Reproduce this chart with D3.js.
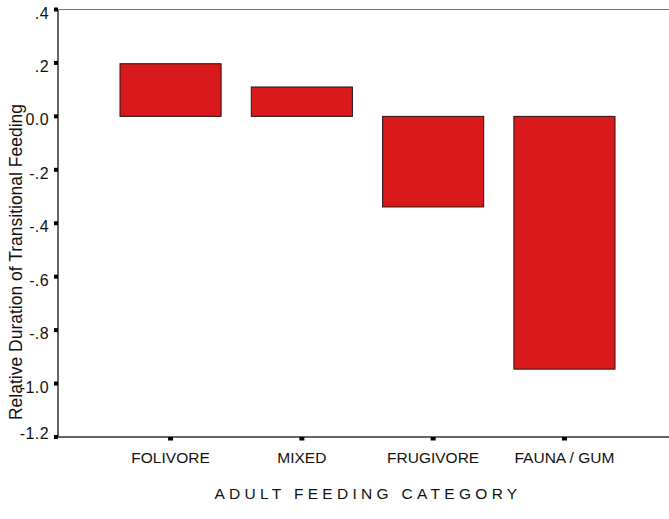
<!DOCTYPE html>
<html><head><meta charset="utf-8">
<script src="https://cdn.jsdelivr.net/npm/d3@7/dist/d3.min.js"></script>
<style>body{margin:0;background:#fff}svg{display:block;font-family:"Liberation Sans",Arial,sans-serif}</style>
</head><body><svg id="c" width="669" height="519"></svg>
<script>
const categories = ["FOLIVORE", "MIXED", "FRUGIVORE", "FAUNA / GUM"];
const values = [0.197, 0.110, -0.339, -0.946];
const tickValues = [0.4, 0.2, 0.0, -0.2, -0.4, -0.6, -0.8, -1.0, -1.2];
const tickLabels = [".4", ".2", "0.0", "-.2", "-.4", "-.6", "-.8", "-1.0", "-1.2"];
const yTitle = "Relative Duration of Transitional Feeding";
const xTitle = "ADULT FEEDING CATEGORY";

const svg = d3.select("#c");
const pLeft = 58, pRight = 669, pTop = 9.5, pBottom = 437;
const y = d3.scaleLinear().domain([-1.2, 0.4]).range([pBottom, pTop]);
const xBar = d3.scaleBand().domain(categories).range([104.9, 630.1]).paddingInner(0.23).paddingOuter(0.115);
const xMid = d => xBar(d) + xBar.bandwidth() / 2;

// top frame line
svg.append("line").attr("x1", pLeft).attr("x2", pRight).attr("y1", pTop).attr("y2", pTop)
  .attr("stroke", "#777").attr("stroke-width", 1.2);

// bars
svg.selectAll("rect.bar").data(values).join("rect").attr("class", "bar")
  .attr("x", (d, i) => xBar(categories[i]))
  .attr("width", xBar.bandwidth())
  .attr("y", d => y(Math.max(0, d)))
  .attr("height", d => Math.abs(y(d) - y(0)))
  .attr("fill", "#d81a1c").attr("stroke", "#2a1010").attr("stroke-width", 1);

// y axis
svg.append("line").attr("x1", pLeft).attr("x2", pLeft).attr("y1", pTop).attr("y2", pBottom)
  .attr("stroke", "#333").attr("stroke-width", 1.5);
svg.selectAll("rect.yt").data(tickValues).join("rect").attr("class", "yt")
  .attr("x", pLeft - 4).attr("y", d => y(d) - 2).attr("width", 4).attr("height", 4).attr("fill", "#000");
svg.selectAll("text.yl").data(tickValues).join("text").attr("class", "yl")
  .attr("x", 49).attr("y", d => Math.min(y(d) + 9, pBottom + 1.5)).attr("text-anchor", "end")
  .attr("font-size", 16).attr("letter-spacing", 0.4).attr("fill", "#111").text((d, i) => tickLabels[i]);

// x axis
svg.append("line").attr("x1", pLeft).attr("x2", pRight).attr("y1", pBottom).attr("y2", pBottom)
  .attr("stroke", "#333").attr("stroke-width", 1.5);
svg.selectAll("rect.xt").data(categories).join("rect").attr("class", "xt")
  .attr("x", d => xMid(d) - 2.5).attr("y", pBottom).attr("width", 5).attr("height", 3.5).attr("fill", "#000");
svg.selectAll("text.xl").data(categories).join("text").attr("class", "xl")
  .attr("x", d => xMid(d)).attr("y", 463).attr("text-anchor", "middle")
  .attr("font-size", 15.5).attr("fill", "#111").text(d => d);

// titles
svg.append("text").attr("transform", "translate(22,262) rotate(-90)").attr("text-anchor", "middle")
  .attr("font-size", 17.5).attr("fill", "#111").text(yTitle);
svg.append("text").attr("x", 368).attr("y", 499).attr("text-anchor", "middle")
  .attr("font-size", 15.5).attr("letter-spacing", 4.3).attr("fill", "#111").text(xTitle);
</script></body></html>
